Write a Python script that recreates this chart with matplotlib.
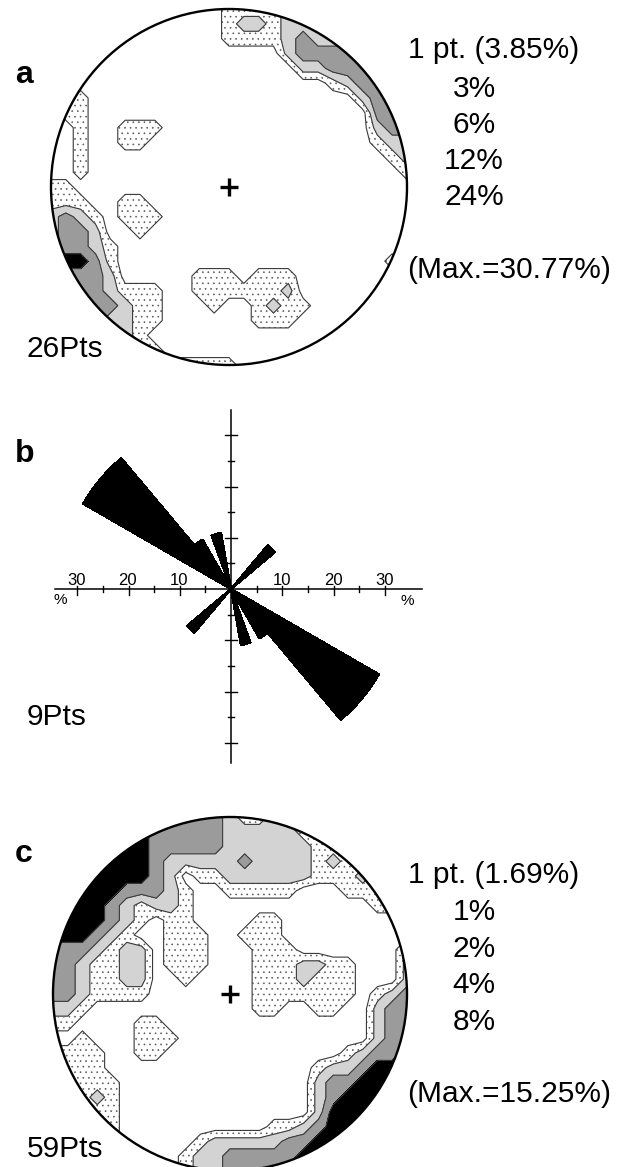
import numpy as np
import matplotlib
matplotlib.use('Agg')
import matplotlib.pyplot as plt
from matplotlib.patches import Circle

plt.rcParams['font.family'] = ['Liberation Sans', 'DejaVu Sans']
plt.rcParams['hatch.color'] = '#5a5a5a'
plt.rcParams['hatch.linewidth'] = 0.45

W, H = 639, 1167

# ─── contour class grids, rows top -> bottom over [-1, 1] x [-1, 1] ───
# 0 = below 1 pt, 1 = 1 pt (stippled), 2..4 = next contour intervals
DENSITY_A = [
    "0000000000001111222222222",
    "0000000000001221222222222",
    "0000000000001111232222222",
    "0000000000000000233333333",
    "0000000000000000022333333",
    "0000000000000000000123333",
    "0010000000000000000002333",
    "0110000000000000000000333",
    "0010011100000000000000233",
    "0010011000000000000000122",
    "0010000000000000000000012",
    "0010000000000000000000001",
    "1100000000000000000000000",
    "1110011000000000000000000",
    "2321011100000000000000000",
    "2332001000000000000000000",
    "2332100000000000000000000",
    "3443100000000000000000010",
    "3333200000111011100000000",
    "3333211100111111200000000",
    "3333321100010012110000000",
    "3333221100000011100000000",
    "3333321000000000000000000",
    "3333332100000000000000000",
    "2222222111111000000000000",
]

DENSITY_C = [
    "4444444433332112111111111",
    "4444444333332222211111111",
    "4444444333332222221111111",
    "4444444322222322221211111",
    "4444444320112222221112111",
    "4444433321001111100011111",
    "4444321221000000000000111",
    "4444321011000011000000000",
    "4443210011100111000000000",
    "3332122011100011100000002",
    "3321122011100011122110002",
    "3321122001000011121110002",
    "3321111000000011111110123",
    "2210000000000011001100233",
    "1100001100000000000000233",
    "0010001110000000000000233",
    "1111001100000000000012334",
    "1111000000000000001223444",
    "1111100000000000002334444",
    "1112100000000000002344444",
    "1111100000000000002444444",
    "1111100000000001123444444",
    "1111100000122222334444444",
    "0000000001223333344444444",
    "0000000001223333444444444",
]

ONE_PT_A = '1 pt. (3.85%)'
LEVELS_A = ['3%', '6%', '12%', '24%']
MAX_A = '(Max.=30.77%)'
ONE_PT_C = '1 pt. (1.69%)'
LEVELS_C = ['1%', '2%', '4%', '8%']
MAX_C = '(Max.=15.25%)'
NPTS = ['26Pts', '9Pts', '59Pts']
PANELS = ['a', 'b', 'c']

# rose diagram (axial data, 10 degree bins, azimuth of bin start)
ROSE_BIN_START = [40, 120, 130, 140, 160]
ROSE_PCT = [11.1, 33.3, 33.3, 11.1, 11.1]
ROSE_BIN_W = 10
ROSE_TICKS = [5, 10, 15, 20, 25, 30]
ROSE_LABELS = [10, 20, 30]

FILLS = ['white', 'white', '#d3d3d3', '#9b9b9b', '#000000']
HATCHES = ['', '...', '', '', '']
BOUNDS = [-0.5, 0.5, 1.5, 2.5, 3.5, 4.5]

fig = plt.figure(figsize=(W / 100, H / 100), dpi=100)


def px_axes(cx, cy, half, **kw):
    return fig.add_axes([(cx - half) / W, 1 - (cy + half) / H,
                         2 * half / W, 2 * half / H], **kw)


def ftext(x, y, s, **kw):
    fig.text(x / W, 1 - y / H, s, **kw)


def stereonet(cx, cy, r, grid):
    z = np.array([[int(ch) for ch in row] for row in grid], dtype=float)
    n = z.shape[0]
    xs = np.linspace(-1, 1, n)
    ys = np.linspace(1, -1, n)
    ax = px_axes(cx, cy, 1.03 * r)
    ax.set_xlim(-1.03, 1.03)
    ax.set_ylim(-1.03, 1.03)
    ax.set_aspect('equal')
    ax.axis('off')
    clip = Circle((0, 0), 1, transform=ax.transData)
    cs = ax.contourf(xs, ys, z, levels=BOUNDS, colors=FILLS, hatches=HATCHES)
    cs.set_clip_path(clip)
    cl = ax.contour(xs, ys, z, levels=BOUNDS[1:-1], colors='#3a3a3a', linewidths=0.8)
    cl.set_clip_path(clip)
    ax.add_patch(Circle((0, 0), 1, fill=False, lw=1.7, ec='black', zorder=5))
    ax.plot(0, 0, marker='+', ms=13, mew=2.4, color='black', zorder=6)
    return ax


# ─── a ───
stereonet(229, 187, 178, DENSITY_A)
ftext(408, 58, ONE_PT_A, ha='left', va='baseline', fontsize=21.5)
for k, s in enumerate(LEVELS_A):
    ftext(474, 97 + k * 36, s, ha='center', va='baseline', fontsize=21.5)
ftext(407, 278, MAX_A, ha='left', va='baseline', fontsize=21.5)

# ─── c ───
stereonet(230, 994, 177, DENSITY_C)
ftext(408, 883, ONE_PT_C, ha='left', va='baseline', fontsize=21.5)
for k, s in enumerate(LEVELS_C):
    ftext(474, 920 + k * 36.7, s, ha='center', va='baseline', fontsize=21.5)
ftext(407, 1102, MAX_C, ha='left', va='baseline', fontsize=21.5)

# ─── b: rose diagram ───
R = 40
axp = px_axes(231, 589, 205, projection='polar')
axp.set_theta_zero_location('N')
axp.set_theta_direction(-1)
axp.set_ylim(0, R)
axp.axis('off')
axp.patch.set_alpha(0)
for start, pct in zip(ROSE_BIN_START, ROSE_PCT):
    for off in (0, 180):
        axp.bar(np.radians(start + off), pct, width=np.radians(ROSE_BIN_W),
                align='edge', color='black', edgecolor='black', linewidth=0.9,
                antialiased=False)

axx = px_axes(231, 589, 205)
axx.set_xlim(-R, R)
axx.set_ylim(-R, R)
axx.axis('off')
axx.patch.set_alpha(0)
axx.plot([-34.3, 37.2], [0, 0], color='black', lw=1.1)
axx.plot([0, 0], [-33.9, 34.9], color='black', lw=1.1)
for t in ROSE_TICKS:
    major = t % 10 == 0
    for sgn in (-1, 1):
        if major:
            axx.plot([sgn * t, sgn * t], [-1.2, 0.6], color='black', lw=1.0)
            axx.plot([-1.1, 1.1], [sgn * t, sgn * t], color='black', lw=1.0)
        else:
            axx.plot([sgn * t, sgn * t], [-0.5, 0.5], color='black', lw=1.0)
            axx.plot([-0.5, 0.5], [sgn * t, sgn * t], color='black', lw=1.0)
for v in ROSE_LABELS:
    for sgn in (-1, 1):
        axx.text(sgn * v - 0.2 * (sgn < 0), 0.7, str(v), ha='center', va='baseline', fontsize=12)
axx.text(-33.3, -2.1, '%', ha='center', va='center', fontsize=11)
axx.text(34.3, -2.3, '%', ha='center', va='center', fontsize=11)

# ─── panel letters and point counts ───
for lab, y in zip(PANELS, [83, 462, 862]):
    ftext(15, y, lab, ha='left', va='baseline', fontsize=23, fontweight='bold')
for s, y in zip(NPTS, [357, 725, 1157]):
    ftext(27, y, s, ha='left', va='baseline', fontsize=21.5)

fig.savefig('out.png', dpi=100, facecolor='white')
